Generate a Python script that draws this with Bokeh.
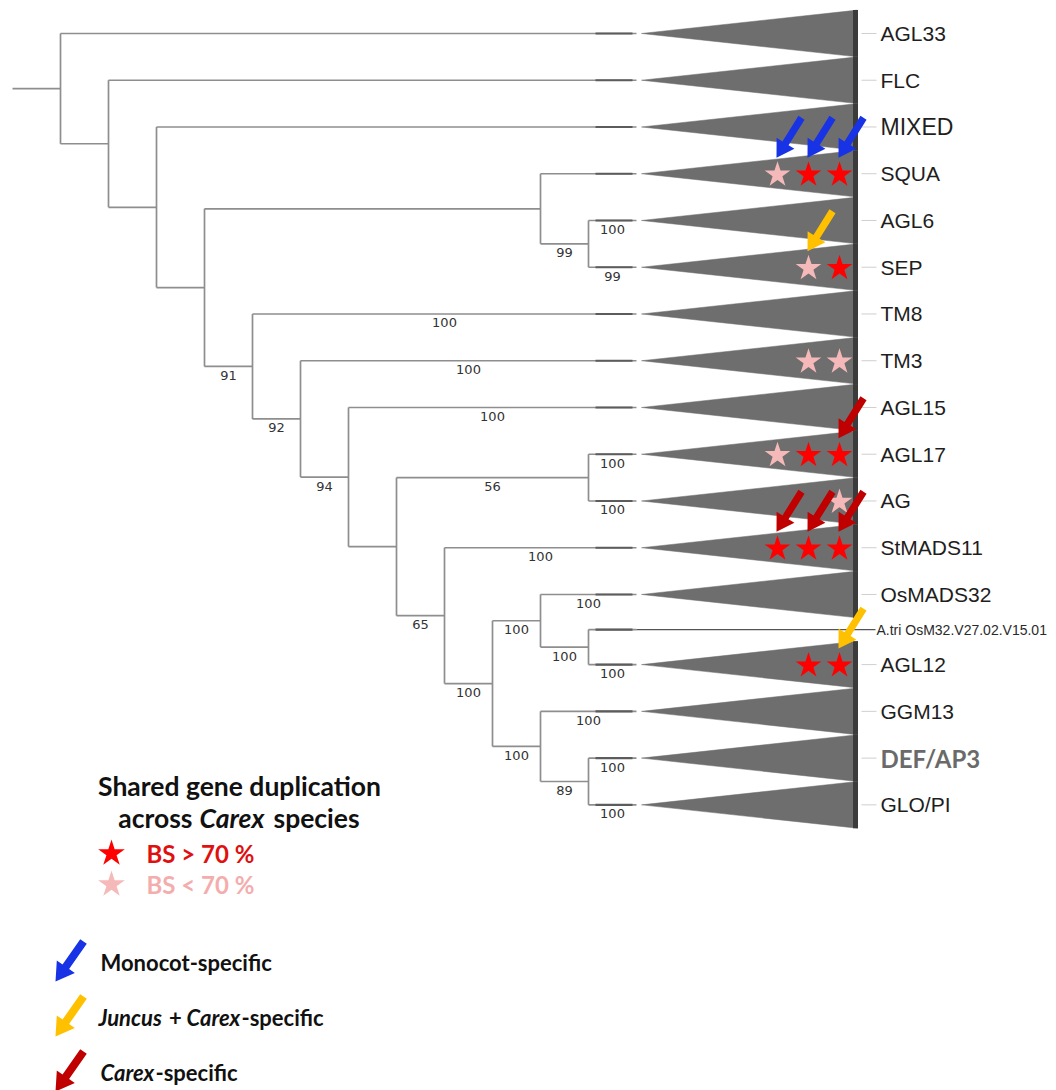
import math
from bokeh.plotting import figure
from bokeh.models import Range1d
from bokeh.core.properties import value
from bokeh.embed import file_html
from bokeh.resources import INLINE

# ---------------------------------------------------------------------------
# Tree topology: one entry per edge (child, parent, bootstrap support shown
# under the branch; None = no value printed)
# ---------------------------------------------------------------------------
edge_child = ["AGL33", "nB", "FLC", "nC", "MIXED", "nD", "nE", "nF",
              "SQUA", "nG", "AGL6", "SEP",
              "TM8", "nH", "TM3", "nI", "AGL15", "nJ", "nK", "nL",
              "AGL17", "AG", "StMADS11", "nM", "nN", "nP",
              "OsMADS32", "nQ", "A.tri OsM32.V27.02.V15.01", "AGL12",
              "GGM13", "nR", "DEF/AP3", "GLO/PI"]
edge_parent = ["root", "root", "nB", "nB", "nC", "nC", "nD", "nD",
               "nE", "nE", "nG", "nG",
               "nF", "nF", "nH", "nH", "nI", "nI", "nJ", "nJ",
               "nK", "nK", "nL", "nL", "nM", "nM",
               "nN", "nN", "nQ", "nQ",
               "nP", "nP", "nR", "nR"]
edge_support = [None, None, None, None, None, None, None, 91,
                None, 99, 100, 99,
                100, 92, 100, 94, 100, None, 56, 65,
                100, 100, 100, 100, 100, 100,
                100, 100, None, 100,
                100, 89, 100, 100]

# leaves that are a single sequence rather than a collapsed clade
single_leaves = ["A.tri OsM32.V27.02.V15.01"]

# Shared Carex duplications: clade, column (0..2), bootstrap > 70 %
star_clade = ["SQUA", "SQUA", "SQUA", "SEP", "SEP", "TM3", "TM3",
              "AGL17", "AGL17", "AGL17", "AG",
              "StMADS11", "StMADS11", "StMADS11", "AGL12", "AGL12"]
star_col = [0, 1, 2, 1, 2, 1, 2, 0, 1, 2, 2, 0, 1, 2, 1, 2]
star_high = [False, True, True, False, True, False, False,
             False, True, True, False,
             True, True, True, True, True]

# Duplication origin arrows: clade pointed at, column, category
arrow_clade = ["SQUA", "SQUA", "SQUA", "SEP", "AGL17",
               "StMADS11", "StMADS11", "StMADS11", "AGL12"]
arrow_col = [0, 1, 2, 1, 2, 0, 1, 2, 2]
arrow_kind = ["mono", "mono", "mono", "junc", "carex",
              "carex", "carex", "carex", "junc"]

# ---------------------------------------------------------------------------
# Styling / layout constants (pixels)
# ---------------------------------------------------------------------------
W, H = 1056, 1090
TIP_X = 636          # aligned tips of the cladogram
STEP = 48            # horizontal step per node level
ROW = 46.75          # height of a collapsed clade
TOP = 9.6
TRI_X0, TRI_X1 = 641, 857
LABEL_X = 880
STAR_X0, STAR_DX = 777, 31

BRANCH = "#8e8e8e"
TRI_FILL = "#6e6e6e"
BAR = "#3b3b3b"
RED = "#ff0000"
PINK = "#f6b9b9"
ARROW_COL = {"mono": "#1832e6", "junc": "#ffc000", "carex": "#c00000"}

# ---------------------------------------------------------------------------
# Layout of the tree
# ---------------------------------------------------------------------------
children = {}
for c, par in zip(edge_child, edge_parent):
    children.setdefault(par, []).append(c)
parent_of = dict(zip(edge_child, edge_parent))


def is_tip(n):
    return n not in children


tips = []


def walk(n):
    if is_tip(n):
        tips.append(n)
    else:
        for c in children[n]:
            walk(c)


walk("root")

ypos = {}
acc = 0.0
for t in tips:
    h = 0.5 if t in single_leaves else 1.0
    ypos[t] = TOP + ROW * (acc + h / 2)
    acc += h

level = {}


def layout(n):
    if is_tip(n):
        level[n] = 0
    else:
        for c in children[n]:
            layout(c)
        level[n] = 1 + max(level[c] for c in children[n])
        kids = children[n]
        ypos[n] = (ypos[kids[0]] + ypos[kids[-1]]) / 2


layout("root")
xpos = {n: TIP_X - STEP * lv for n, lv in level.items()}

p = figure(width=W, height=H, x_range=Range1d(0, W), y_range=Range1d(H, 0),
           output_backend="svg", toolbar_location=None, min_border=0,
           x_axis_location=None, y_axis_location=None)
p.grid.visible = False
p.outline_line_color = None
p.background_fill_color = "white"
p.border_fill_color = "white"

# horizontal branches
hx0, hx1, hy = [], [], []
for c in edge_child:
    hx0.append(xpos[parent_of[c]])
    hx1.append(xpos[c])
    hy.append(ypos[c])
# root stub
hx0.append(xpos["root"] - STEP)
hx1.append(xpos["root"])
hy.append(ypos["root"])
p.segment(x0=hx0, y0=hy, x1=hx1, y1=hy, line_color=BRANCH, line_width=1.7)

# vertical connectors
vx, vy0, vy1 = [], [], []
for n, kids in children.items():
    vx.append(xpos[n])
    vy0.append(ypos[kids[0]])
    vy1.append(ypos[kids[-1]])
p.segment(x0=vx, y0=vy0, x1=vx, y1=vy1, line_color=BRANCH, line_width=1.7)

# single sequence line runs out to its label
single_y = [ypos[t] for t in single_leaves]
p.segment(x0=[TIP_X] * len(single_y), y0=single_y, x1=[LABEL_X - 5] * len(single_y),
          y1=single_y, line_color="#555555", line_width=1.2)

# darker stretch just before each tip
tip_y = [ypos[t] for t in tips]
p.segment(x0=[TIP_X - 41] * len(tips), y0=tip_y, x1=[TIP_X - 4] * len(tips), y1=tip_y,
          line_color="#5c5c5c", line_width=2.2)

# collapsed clade triangles
clades = [t for t in tips if t not in single_leaves]
half = ROW / 2
tri_xs = [[TRI_X0, TRI_X1, TRI_X1] for _ in clades]
tri_ys = [[ypos[t], ypos[t] - half, ypos[t] + half] for t in clades]
p.patches(xs=tri_xs, ys=tri_ys, fill_color=TRI_FILL, line_color=TRI_FILL, line_width=0.5)
p.segment(x0=[TRI_X1 - 2] * len(clades), y0=[ypos[t] - half for t in clades],
          x1=[TRI_X1 - 2] * len(clades), y1=[ypos[t] + half for t in clades],
          line_color=BAR, line_width=5)

# leader ticks to clade names
p.segment(x0=[TRI_X1 + 4] * len(clades), y0=[ypos[t] for t in clades],
          x1=[LABEL_X - 4] * len(clades), y1=[ypos[t] for t in clades],
          line_color="#cfcfcf", line_width=1)

# clade names
plain = [t for t in clades if t not in ("MIXED", "DEF/AP3")]
p.text(x=[LABEL_X] * len(plain), y=[ypos[t] for t in plain], text=plain,
       text_font=value("Liberation Sans"), text_font_size="21px",
       text_baseline="middle", text_color="#1e1e1e")
p.text(x=[LABEL_X], y=[ypos["MIXED"]], text=["MIXED"],
       text_font=value("Liberation Sans"), text_font_size="23px",
       text_baseline="middle", text_color="#1e1e1e")
p.text(x=[LABEL_X], y=[ypos["DEF/AP3"]], text=["DEF/AP3"],
       text_font=value("Lato"), text_font_style="bold", text_font_size="24px",
       text_baseline="middle", text_color="#6a6a6a")
p.text(x=[LABEL_X - 4] * len(single_leaves), y=single_y, text=single_leaves,
       text_font=value("Liberation Sans"), text_font_size="14px",
       text_baseline="middle", text_color="#2a2a2a")

# bootstrap supports, centred under their branch
sx, sy, st = [], [], []
for c, s in zip(edge_child, edge_support):
    if s is None:
        continue
    sx.append((xpos[parent_of[c]] + xpos[c]) / 2)
    sy.append(ypos[c] + 9)
    st.append(str(s))
p.text(x=sx, y=sy, text=st, text_font=value("DejaVu Sans"), text_font_size="13px",
       text_align="center", text_baseline="middle", text_color="#333333")

# duplication stars
stx = [STAR_X0 + STAR_DX * c for c in star_col]
sty = [ypos[c] + 1 for c in star_clade]
stc = [RED if h else PINK for h in star_high]
p.scatter(x=stx, y=sty, marker="star", size=27, fill_color=stc, line_color=None)


def arrow_poly(tx, ty, px, py, sw=3.6, hl=17.0, hw=10.5):
    dx, dy = px - tx, py - ty
    ln = math.hypot(dx, dy)
    ux, uy = dx / ln, dy / ln
    nx, ny = -uy, ux
    bx, by = px - ux * hl, py - uy * hl
    pts = [(tx + nx * sw, ty + ny * sw), (bx + nx * sw, by + ny * sw),
           (bx + nx * hw, by + ny * hw), (px, py),
           (bx - nx * hw, by - ny * hw), (bx - nx * sw, by - ny * sw),
           (tx - nx * sw, ty - ny * sw)]
    return [q[0] for q in pts], [q[1] for q in pts]


axs, ays, acs = [], [], []
for cl, col, kind in zip(arrow_clade, arrow_col, arrow_kind):
    px_, py_ = STAR_X0 + STAR_DX * col - 1, ypos[cl] - 16
    xs, ys = arrow_poly(px_ + 25, py_ - 40, px_, py_)
    axs.append(xs)
    ays.append(ys)
    acs.append(ARROW_COL[kind])
p.patches(xs=axs, ys=ays, fill_color=acs, line_color=None)

# ---------------------------------------------------------------------------
# Legend
# ---------------------------------------------------------------------------
LF = value("Lato")
HEAD = "26.5px"
p.text(x=[239], y=[785], text=["Shared gene duplication"], text_font=LF,
       text_font_style="bold", text_font_size=HEAD, text_align="center",
       text_baseline="middle", text_color="#111111")
p.text(x=[192], y=[817], text=["across"], text_font=LF, text_font_style="bold",
       text_font_size=HEAD, text_align="right", text_baseline="middle",
       text_color="#111111")
p.text(x=[199], y=[817], text=["Carex"], text_font=LF, text_font_style="bold italic",
       text_font_size=HEAD, text_align="left", text_baseline="middle",
       text_color="#111111")
p.text(x=[273], y=[817], text=["species"], text_font=LF, text_font_style="bold",
       text_font_size=HEAD, text_align="left", text_baseline="middle",
       text_color="#111111")

p.scatter(x=[111, 111], y=[853, 884], marker="star", size=28,
          fill_color=[RED, PINK], line_color=None)
p.text(x=[146, 146], y=[853, 884], text=["BS > 70 %", "BS < 70 %"], text_font=LF,
       text_font_style="bold", text_font_size="24px", text_baseline="middle",
       text_color=["#e01010", "#f4adad"])

leg_kind = ["mono", "junc", "carex"]
leg_y = [962, 1017, 1072]
lxs, lys, lcs = [], [], []
for kind, y in zip(leg_kind, leg_y):
    xs, ys = arrow_poly(83, y - 21, 55, y + 19, sw=4.0, hl=18.0, hw=11.0)
    lxs.append(xs)
    lys.append(ys)
    lcs.append(ARROW_COL[kind])
p.patches(xs=lxs, ys=lys, fill_color=lcs, line_color=None)

ITEM = "22px"
p.text(x=[100], y=[leg_y[0]], text=["Monocot-specific"], text_font=LF,
       text_font_style="bold", text_font_size=ITEM, text_baseline="middle",
       text_color="#111111")
# "Juncus + Carex-specific"
p.text(x=[98], y=[leg_y[1]], text=["Juncus"], text_font=LF,
       text_font_style="bold italic", text_font_size=ITEM, text_baseline="middle",
       text_color="#111111")
p.text(x=[175], y=[leg_y[1]], text=["+"], text_font=LF, text_font_style="bold",
       text_font_size=ITEM, text_align="center", text_baseline="middle",
       text_color="#111111")
p.text(x=[186], y=[leg_y[1]], text=["Carex"], text_font=LF,
       text_font_style="bold italic", text_font_size=ITEM, text_baseline="middle",
       text_color="#111111")
p.text(x=[241], y=[leg_y[1]], text=["-specific"], text_font=LF,
       text_font_style="bold", text_font_size=ITEM, text_baseline="middle",
       text_color="#111111")
# "Carex-specific"
p.text(x=[100], y=[leg_y[2]], text=["Carex"], text_font=LF,
       text_font_style="bold italic", text_font_size=ITEM, text_baseline="middle",
       text_color="#111111")
p.text(x=[155], y=[leg_y[2]], text=["-specific"], text_font=LF,
       text_font_style="bold", text_font_size=ITEM, text_baseline="middle",
       text_color="#111111")

open("out.html", "w").write(file_html(p, INLINE))
